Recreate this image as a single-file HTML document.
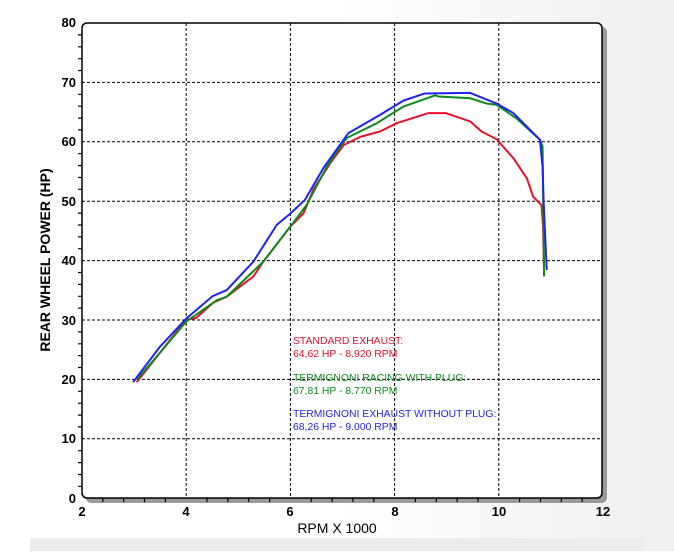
<!DOCTYPE html><html><head><style>body{margin:0;width:674px;height:551px;background:#fff;overflow:hidden;font-family:"Liberation Sans",sans-serif}</style></head><body>
<svg width="674" height="551" xmlns="http://www.w3.org/2000/svg">
<defs><linearGradient id="bg" x1="0" x2="1"><stop offset="0.5" stop-color="#fff"/><stop offset="1" stop-color="#f0f0f0"/></linearGradient></defs>
<rect width="674" height="551" fill="url(#bg)"/>
<rect x="30" y="538" width="614" height="13" fill="#ececec"/>
<rect x="86" y="27" width="521" height="476" rx="5" fill="#9a9a9a"/>
<rect x="82" y="23" width="520" height="475" rx="5" fill="#fff" stroke="#000" stroke-width="1.5"/>
<g stroke="#000" stroke-width="1" stroke-dasharray="3,2">
<line x1="186.2" y1="23" x2="186.2" y2="498"/><line x1="290.4" y1="23" x2="290.4" y2="498"/><line x1="394.6" y1="23" x2="394.6" y2="498"/><line x1="498.8" y1="23" x2="498.8" y2="498"/>
<line x1="82" y1="82.4" x2="602" y2="82.4"/><line x1="82" y1="141.8" x2="602" y2="141.8"/><line x1="82" y1="201.2" x2="602" y2="201.2"/><line x1="82" y1="260.6" x2="602" y2="260.6"/><line x1="82" y1="320" x2="602" y2="320"/><line x1="82" y1="379.4" x2="602" y2="379.4"/><line x1="82" y1="438.8" x2="602" y2="438.8"/>
</g>
<path id="yt" stroke="#000" stroke-width="1.2" d="M78,34.9h4M78,46.8h4M78,58.7h4M78,70.5h4M78,94.3h4M78,106.2h4M78,118.1h4M78,129.9h4M78,153.7h4M78,165.6h4M78,177.5h4M78,189.3h4M78,213.1h4M78,225h4M78,236.9h4M78,248.7h4M78,272.5h4M78,284.4h4M78,296.3h4M78,308.1h4M78,331.9h4M78,343.8h4M78,355.7h4M78,367.5h4M78,391.3h4M78,403.2h4M78,415.1h4M78,426.9h4M78,450.7h4M78,462.6h4M78,474.5h4M78,486.3h4"/>
<path stroke="#000" stroke-width="1.2" d="M102.8,498v4M123.7,498v4M144.5,498v4M165.4,498v4M207,498v4M227.9,498v4M248.7,498v4M269.6,498v4M311.2,498v4M332.1,498v4M352.9,498v4M373.8,498v4M415.4,498v4M436.3,498v4M457.1,498v4M478,498v4M519.6,498v4M540.5,498v4M561.3,498v4M582.2,498v4"/>
<g font-size="13" font-weight="bold" fill="#000" text-anchor="end">
<text x="76" y="27">80</text><text x="76" y="87">70</text><text x="76" y="146">60</text><text x="76" y="206">50</text><text x="76" y="265">40</text><text x="76" y="325">30</text><text x="76" y="384">20</text><text x="76" y="443">10</text><text x="76" y="503">0</text>
</g>
<g font-size="13" font-weight="bold" text-anchor="middle">
<text x="82" y="516">2</text><text x="186" y="516">4</text><text x="290" y="516">6</text><text x="395" y="516">8</text><text x="499" y="516">10</text><text x="603" y="516">12</text>
</g>
<text x="337" y="533" font-size="14" text-anchor="middle">RPM X 1000</text>
<text transform="translate(50,260) rotate(-90)" font-size="14" font-weight="bold" text-anchor="middle">REAR WHEEL POWER (HP)</text>
<g transform="translate(-22.2,498) scale(52.1,-5.94)" fill="none" stroke-width="2" stroke-linejoin="round">
<polyline vector-effect="non-scaling-stroke" stroke="#e8102a" points="3.05,19.5 3.5,24.5 4,30 4.19,30.3 4.52,32.9 4.78,33.9 5.29,37.3 5.48,39.8 6,45.7 6.25,47.9 6.44,51.9 6.76,56.3 7.02,59.4 7.34,60.8 7.72,61.7 8.04,63.1 8.65,64.8 8.98,64.8 9.45,63.4 9.67,61.7 9.96,60.4 10.28,57.2 10.54,53.8 10.66,50.7 10.82,49.3 10.85,45.6 10.87,37.3"/>
<polyline vector-effect="non-scaling-stroke" stroke="#0c8a1c" points="3.05,19.9 3.5,24.5 4,29.7 4.59,33.3 4.78,33.9 5.48,39.8 6,45.7 6.31,49.3 6.7,55.8 7.08,60.6 7.66,63.1 8.17,65.9 8.78,67.8 8.84,67.6 9.45,67.3 9.77,66.4 9.96,66.2 10.34,63.9 10.79,60.3 10.84,59.2 10.87,37.3"/>
<polyline vector-effect="non-scaling-stroke" stroke="#2222ee" points="2.98,19.5 3.5,25.5 4,30.2 4.51,34 4.78,35 5.29,39.8 5.74,46 6,47.9 6.28,50.2 6.63,55.5 7.11,61.4 7.72,64.5 8.17,66.9 8.58,68.1 9.45,68.2 9.96,66.4 10.28,64.8 10.79,60.3 10.84,55.8 10.86,50 10.92,38.4"/>
</g>
<g font-size="10.4">
<text x="293" y="344" fill="#e8102a">STANDARD EXHAUST:</text><text x="293" y="357" fill="#e8102a">64,62 HP - 8.920 RPM</text>
<text x="293" y="381" fill="#0c8a1c">TERMIGNONI RACING WITH PLUG:</text><text x="293" y="394" fill="#0c8a1c">67,81 HP - 8.770 RPM</text>
<text x="293" y="417" fill="#2222ee">TERMIGNONI EXHAUST WITHOUT PLUG:</text><text x="293" y="430" fill="#2222ee">68,26 HP - 9.000 RPM</text>
</g>
</svg></body></html>
